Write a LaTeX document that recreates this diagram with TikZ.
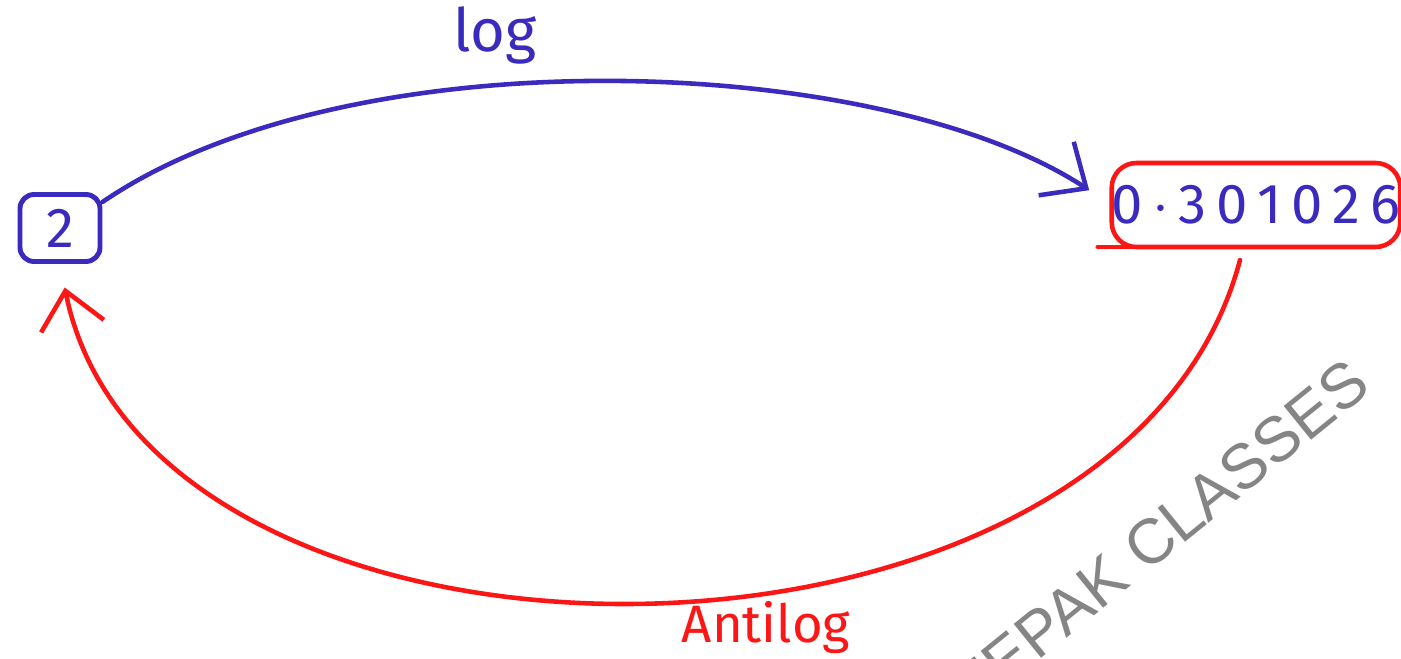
\documentclass[tikz,border=0pt]{standalone}
\usepackage{fontspec}
\setmainfont{Fira Sans}
\newfontfamily\markfont{Liberation Sans}
\newfontfamily\widefont[LetterSpace=18]{Fira Sans}
\usetikzlibrary{arrows.meta}
\definecolor{penblue}{RGB}{58,42,190}
\definecolor{penred}{RGB}{252,22,22}
\begin{document}
\begin{tikzpicture}[line join=round, line cap=round, >={Straight Barb[length=3.6mm, width=6.4mm, line width=1.3pt]},
		bluebox/.style={draw=penblue, line width=1.4pt, rounded corners=4pt, text=penblue, minimum width=0.8cm, minimum height=0.67cm, inner sep=0pt},
		redbox/.style={draw=penred, line width=1.3pt, rounded corners=7pt, text=penblue, minimum width=2.88cm, minimum height=0.84cm, inner sep=0pt, outer sep=0pt},
		pen/.style={line width=1.3pt}]
	\useasboundingbox (0, 0) rectangle (14.01, 6.58);
	% watermark
	\node[rotate=39, text=black!48, font=\markfont\fontsize{18}{21}\selectfont] (mark) at (11.41, 1.08) {DEEPAK CLASSES};
	% the two values
	\node[bluebox, font=\fontsize{16}{18}\selectfont] (two) at (0.60, 4.30) {2};
	\node[redbox, font=\widefont\fontsize{16}{18}\selectfont] (val) at (12.56, 4.53) {0\,$\cdot$\,301026};
	\draw[penred, line width=1.3pt] ([xshift=0.25cm]val.south west) -- ++(-0.39, 0);
	% log and antilog
	\draw[pen, penblue, ->, shorten >=0.27cm] ([yshift=-0.1cm]two.north east) .. controls (3.5, 6.25) and (8.8, 6.05) .. (val.west);
	\draw[pen, penred, ->, shorten >=0.24cm] ([xshift=-0.16cm, yshift=-0.13cm]val.south) .. controls (11.2, -0.55) and (1.5, -0.55) .. (two.south);
	\node[text=penblue, font=\fontsize{17}{20}\selectfont] (loglabel) at (4.95, 6.23) {log};
	\node[text=penred, font=\fontsize{15}{18}\selectfont] (antiloglabel) at (7.66, 0.30) {Antilog};
\end{tikzpicture}
\end{document}
